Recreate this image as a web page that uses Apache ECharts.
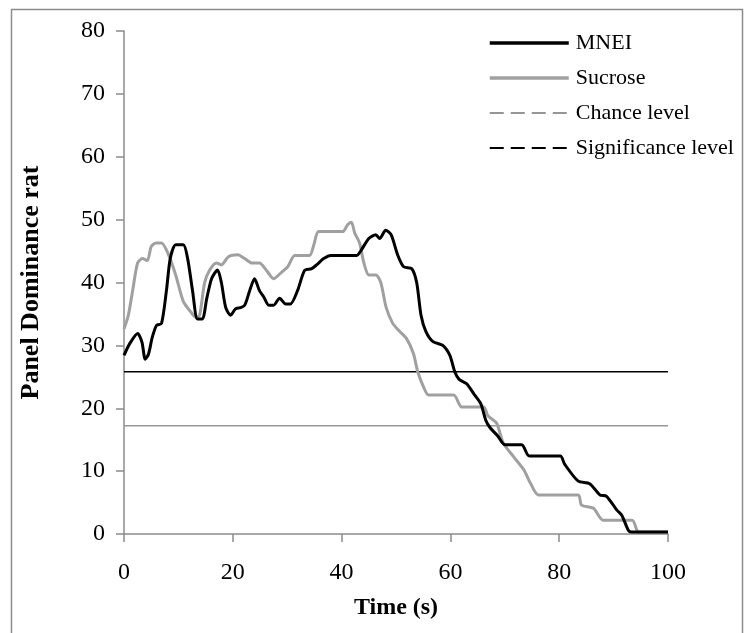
<!DOCTYPE html>
<html>
<head>
<meta charset="utf-8">
<script src="https://cdn.jsdelivr.net/npm/echarts@6/dist/echarts.min.js"></script>
<style>
html,body{margin:0;padding:0;background:#fff;}
#c{width:745px;height:633px;}
</style>
</head>
<body>
<div id="c"></div>
<script>
// ---- data ----
var xTicks = [0, 20, 40, 60, 80, 100];
var yTicks = [0, 10, 20, 30, 40, 50, 60, 70, 80];
var seriesNames = ['MNEI', 'Sucrose', 'Chance level', 'Significance level'];

var mneiT = [0, 1, 2.5, 3.3, 3.9, 4.5, 5.2, 6, 6.9, 7.8, 8.5, 9.5, 10.9, 11.7, 12.6, 13.5, 14.4, 15.2, 16.1, 17.2, 17.9, 18.7, 19.6, 20.5, 21.4, 22.2, 23.1, 24, 24.9, 25.7, 26.6, 27.5, 28.6, 29.7, 30.6, 31.9, 33.2, 34.5, 35.4, 36.7, 38, 42.8, 43.5, 45, 46.3, 47, 48.1, 49.1, 50.3, 51.4, 52.9, 53.8, 54.6, 55.5, 56.8, 58.6, 59.9, 60.8, 61.6, 63, 64.3, 65.6, 66.5, 67.3, 68.7, 70, 73.1, 74.5, 80.2, 81, 83.5, 85.6, 87.5, 88.7, 90.6, 91.5, 92.7, 93.3, 100];
var mneiV = [28.4, 30.2, 31.9, 30.5, 27.8, 28.6, 31.3, 33.2, 33.5, 38.7, 43.8, 46, 46, 43.8, 38.7, 34.2, 34.2, 37.4, 40.6, 42, 40, 36, 34.8, 35.8, 36, 36.4, 38.7, 40.6, 38.7, 37.7, 36.4, 36.4, 37.5, 36.6, 36.6, 38.7, 41.9, 42.2, 42.8, 43.8, 44.3, 44.3, 45, 47, 47.6, 47, 48.3, 47.6, 44.4, 42.5, 42.2, 40, 34.8, 32.2, 30.6, 30, 28.4, 25.8, 24.6, 23.9, 22.3, 20.7, 18.1, 16.9, 15.6, 14.2, 14.2, 12.4, 12.4, 11.1, 8.4, 8.0, 6.2, 6.0, 3.8, 3.0, 0.6, 0.3, 0.3];

var sucroseT = [0, 0.8, 1.7, 2.5, 3.4, 4.3, 5, 5.9, 6.9, 8.2, 9.5, 10.9, 12.2, 13.2, 13.9, 14.8, 15.7, 17, 17.9, 19.2, 20.9, 22.2, 23.5, 24.9, 26.2, 27.5, 28.8, 30.1, 31.4, 34.1, 34.9, 35.8, 40.2, 41.1, 41.8, 42.4, 43.3, 44.1, 45, 46.3, 47.2, 48.2, 49.4, 50.7, 52, 53.2, 54, 55.1, 56, 60.6, 62.1, 66.1, 66.9, 68.5, 69.7, 71.6, 73.5, 74.7, 76.2, 83.5, 84.1, 86.3, 88.1, 93.4, 94.3, 94.8, 100];
var sucroseV = [32.6, 34.8, 39.3, 43.1, 43.8, 43.5, 45.7, 46.3, 46.3, 44.4, 41.2, 37, 35.4, 34.5, 34.8, 39.9, 41.9, 43.1, 42.8, 44.1, 44.4, 43.8, 43.1, 43.1, 41.9, 40.6, 41.5, 42.5, 44.3, 44.3, 46, 48.1, 48.1, 49.2, 49.6, 47.9, 46.3, 43.1, 41.2, 41.2, 40, 36, 33.5, 32.2, 31, 28.7, 25.8, 23.3, 22.1, 22.1, 20.2, 20.2, 18.8, 17.6, 14.5, 12.3, 10.2, 8.1, 6.2, 6.2, 4.6, 4.1, 2.2, 2.2, 0.6, 0.3, 0.3];

var chanceLevel = 17.2;
var significanceLevel = 25.8;

function pairs(t, v) { return t.map(function (x, i) { return [x, v[i]]; }); }

var FONT = '"Liberation Serif", "Times New Roman", serif';
var chart = echarts.init(document.getElementById('c'), null, {renderer: 'canvas'});
chart.setOption({
  backgroundColor: '#ffffff',
  animation: false,
  graphic: [{
    type: 'rect', left: 9, top: 7,
    shape: {width: 731, height: 625},
    style: {fill: 'none', stroke: '#8c8c8c', lineWidth: 1.5},
    silent: true, z: -1
  }],
  grid: {left: 124, right: 77, top: 31, bottom: 99, containLabel: false},
  legend: {
    orient: 'vertical', left: 488, top: 32, padding: 0,
    itemWidth: 79, itemHeight: 12, itemGap: 13,
    itemStyle: {opacity: 0},
    textStyle: {fontFamily: FONT, fontSize: 22, color: '#000', padding: [0, 0, 0, 2]},
    data: [
      {name: seriesNames[0], lineStyle: {width: 3.5}},
      {name: seriesNames[1], lineStyle: {width: 3.5}},
      {name: seriesNames[2], lineStyle: {type: [14, 7], width: 1.8}},
      {name: seriesNames[3], lineStyle: {type: [14, 7], width: 1.8}}
    ]
  },
  xAxis: {
    type: 'value', min: 0, max: 100, interval: 20,
    name: 'Time (s)', nameLocation: 'middle', nameGap: 62,
    nameTextStyle: {fontFamily: FONT, fontSize: 24, fontWeight: 'bold', color: '#000'},
    axisLine: {show: true, lineStyle: {color: '#8c8c8c', width: 1.5}},
    axisTick: {show: true, inside: false, length: 8, lineStyle: {color: '#8c8c8c', width: 1.5}},
    axisLabel: {fontFamily: FONT, fontSize: 24, color: '#000', margin: 27,
      formatter: function (v) { return xTicks.indexOf(v) >= 0 ? String(v) : ''; }},
    splitLine: {show: false}
  },
  yAxis: {
    type: 'value', min: 0, max: 80, interval: 10,
    name: 'Panel Dominance rate', nameLocation: 'middle', nameGap: 80, nameRotate: 90,
    nameTruncate: {maxWidth: 239, ellipsis: ''},
    nameTextStyle: {fontFamily: FONT, fontSize: 26, fontWeight: 'bold', color: '#000'},
    axisLine: {show: true, lineStyle: {color: '#8c8c8c', width: 1.5}},
    axisTick: {show: true, inside: false, length: 8, lineStyle: {color: '#8c8c8c', width: 1.5}},
    axisLabel: {fontFamily: FONT, fontSize: 24, color: '#000', margin: 19,
      formatter: function (v) { return yTicks.indexOf(v) >= 0 ? String(v) : ''; }},
    splitLine: {show: false}
  },
  series: [
    {name: seriesNames[0], type: 'line', data: pairs(mneiT, mneiV), symbol: 'none', smooth: 0.25,
      lineStyle: {color: '#000000', width: 3}, itemStyle: {color: '#000000'}, z: 4},
    {name: seriesNames[1], type: 'line', data: pairs(sucroseT, sucroseV), symbol: 'none', smooth: 0.25,
      lineStyle: {color: '#a0a0a0', width: 3}, itemStyle: {color: '#a0a0a0'}, z: 3},
    {name: seriesNames[2], type: 'line', data: [[0, chanceLevel], [100, chanceLevel]], symbol: 'none',
      lineStyle: {color: '#969696', width: 1.5}, itemStyle: {color: '#969696'}, z: 2},
    {name: seriesNames[3], type: 'line', data: [[0, significanceLevel], [100, significanceLevel]], symbol: 'none',
      lineStyle: {color: '#000000', width: 1.5}, itemStyle: {color: '#000000'}, z: 2}
  ]
});
</script>
</body>
</html>
